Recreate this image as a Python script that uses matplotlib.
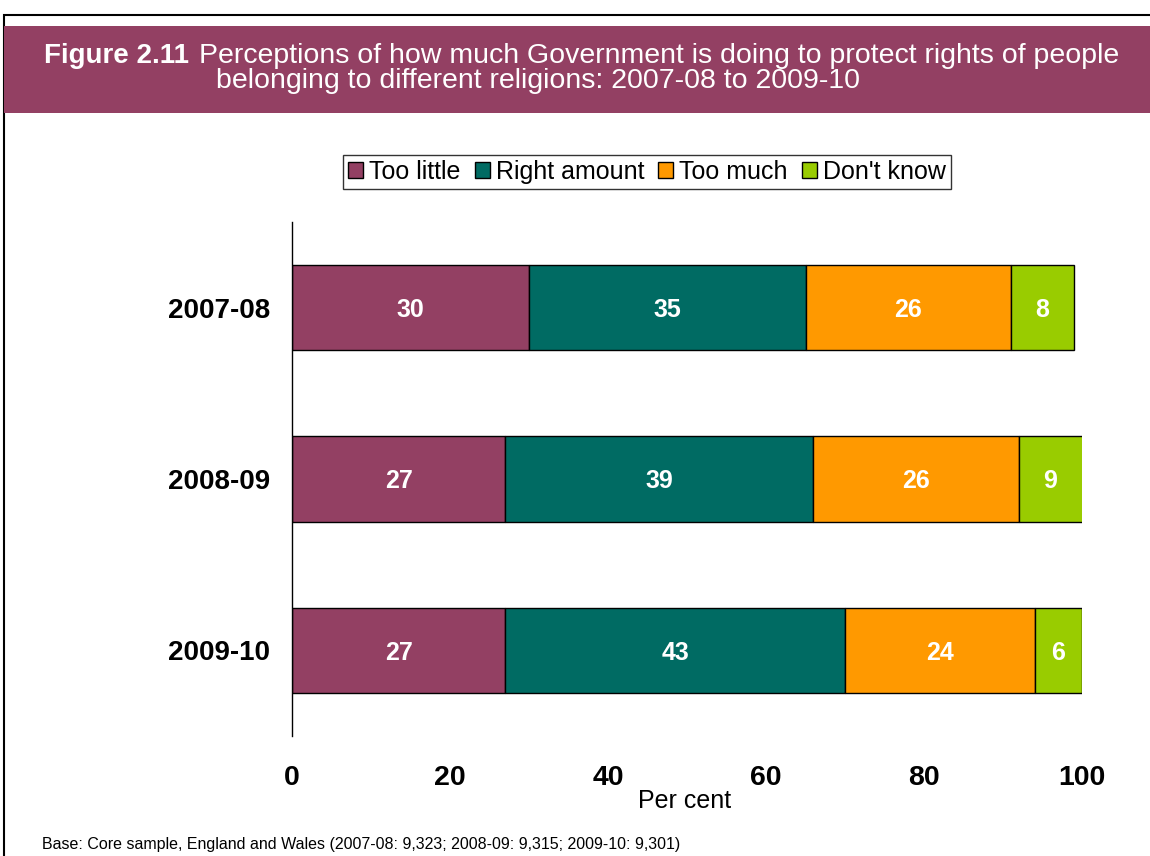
import matplotlib
matplotlib.use("Agg")
import matplotlib.pyplot as plt
from matplotlib.patches import Rectangle, Patch
import numpy as np

plt.rcParams['font.family'] = ['Liberation Sans', 'DejaVu Sans']

# Survey years and response shares (per cent)
years = ["2007-08", "2008-09", "2009-10"]
categories = ["Too little", "Right amount", "Too much", "Don't know"]
too_little = [30, 27, 27]
right_amount = [35, 39, 43]
too_much = [26, 26, 24]
dont_know = [8, 9, 6]
series = [too_little, right_amount, too_much, dont_know]
colors = ["#934063", "#006B63", "#FF9900", "#99CC00"]
xticks = [0, 20, 40, 60, 80, 100]

W, H = 1150, 856
fig = plt.figure(figsize=(W / 100, H / 100), dpi=100)

# Outer frame and title banner
fig.patches.append(Rectangle((4 / W, -0.01), 1.01, 1 - 15 / H + 0.01,
                             transform=fig.transFigure, fill=False,
                             edgecolor="black", linewidth=1.5))
fig.patches.append(Rectangle((4 / W, 1 - 113 / H), 1.0, 87 / H,
                             transform=fig.transFigure, facecolor="#934063",
                             edgecolor="none"))
fig.text(44 / W, 1 - 56 / H, "Figure 2.11", color="white", fontsize=20,
         fontweight="bold", va="center", ha="left")
fig.text(199 / W, 1 - 56 / H, "Perceptions of how much Government is doing to protect rights of people",
         color="white", fontsize=20.5, va="center", ha="left")
fig.text(216 / W, 1 - 81 / H, "belonging to different religions: 2007-08 to 2009-10",
         color="white", fontsize=20.5, va="center", ha="left")

ax = fig.add_axes([292 / W, 1 - 736 / H, 790 / W, 514 / H])
y = np.arange(len(years))
left = np.zeros(len(years))
for vals, col in zip(series, colors):
    vals = np.array(vals, dtype=float)
    bars = ax.barh(y, vals, left=left, height=0.5, color=col,
                   edgecolor="black", linewidth=1)
    labels = ax.bar_label(bars, labels=[str(int(v)) for v in vals], label_type="center",
                          color="white", fontsize=18, fontweight="bold")
    for t in labels:
        t.set_va("center_baseline")
    left += vals

ax.set_xlim(0, 100)
ax.set_ylim(2.5, -0.5)
ax.set_yticks(y)
ax.set_yticklabels(years, fontsize=20, fontweight="bold")
ax.set_xticks(xticks)
ax.set_xticklabels([str(t) for t in xticks], fontsize=20.5, fontweight="bold")
ax.tick_params(axis="both", length=0)
ax.tick_params(axis="x", pad=21)
ax.tick_params(axis="y", pad=16)
for s in ["top", "right", "bottom"]:
    ax.spines[s].set_visible(False)
ax.spines["left"].set_linewidth(1)

fig.text(685 / W, 1 - 801 / H, "Per cent", fontsize=18, ha="center", va="center")

handles = [Patch(facecolor=c, edgecolor="black", linewidth=1) for c in colors]
leg = fig.legend(handles, categories, loc="center", bbox_to_anchor=(647 / W, 1 - 172 / H),
                 ncol=4, fontsize=18, frameon=True, fancybox=False,
                 handlelength=0.6, handleheight=0.6, handletextpad=0.25,
                 columnspacing=0.55, borderpad=0.2, borderaxespad=0)
leg.get_frame().set_edgecolor("black")
leg.get_frame().set_linewidth(1)

fig.text(42 / W, 1 - 845 / H,
         "Base: Core sample, England and Wales (2007-08: 9,323; 2008-09: 9,315; 2009-10: 9,301)",
         fontsize=11.5, ha="left", va="center")

fig.savefig("out.png", dpi=100)
